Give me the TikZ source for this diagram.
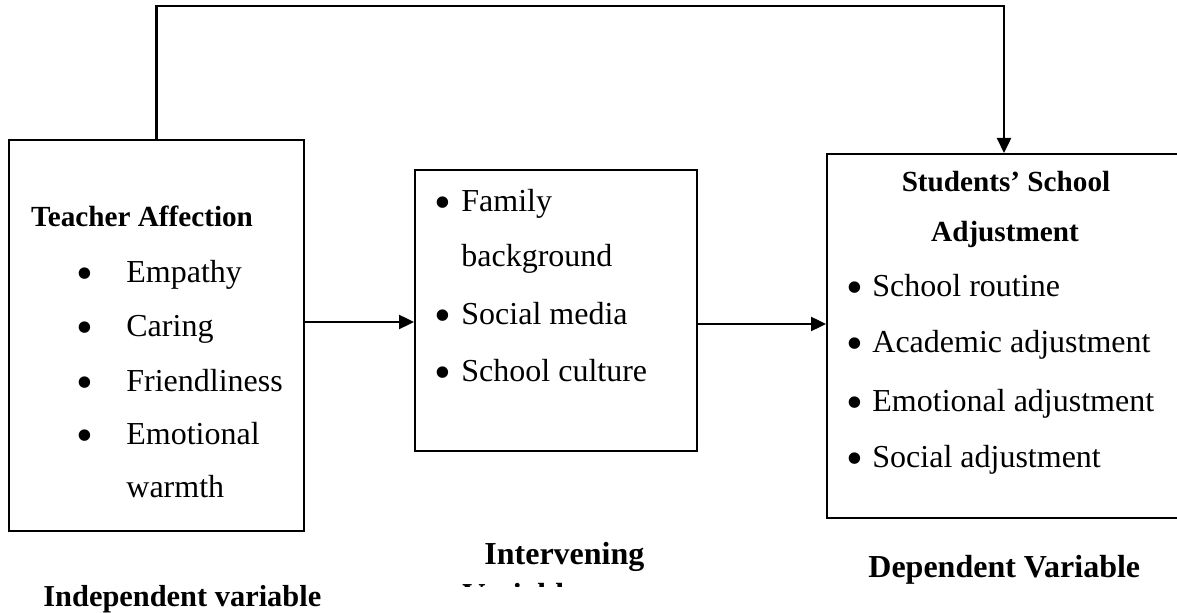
\documentclass[tikz,border=0pt]{standalone}
\usepackage{fontspec}
\setmainfont{Liberation Serif}
\usetikzlibrary{arrows.meta}
\tikzset{
  box/.style={draw, line width=1pt, inner sep=0pt},
  item/.style={anchor=base west, inner sep=0pt, font=\fontsize{16}{16}\selectfont},
  dot/.style={anchor=base, inner sep=0pt, yshift=-3.5pt, font=\fontsize{24}{24}\selectfont},
  head/.style={anchor=base, inner sep=0pt, font=\fontsize{14.6}{14.6}\selectfont\bfseries},
  label/.style={anchor=base west, inner sep=0pt, font=\fontsize{16}{16}\selectfont\bfseries},
  link/.style={line width=1.2pt, -{Triangle[length=7.5pt,width=7pt]}},
}

\begin{document}
\begin{tikzpicture}[x=0.5pt, y=-0.5pt]
\useasboundingbox (0,0) rectangle (1177,613);
% boxes
\node (indep)[box, minimum width=147.5pt, minimum height=195.5pt] at (156.5,335.5) {};
\node (interv)[box, minimum width=141pt, minimum height=140.5pt] at (556,310.5) {};
\node (dep)[box, minimum width=177pt, minimum height=182pt] at (1004,336) {};
% independent variable
\node (ta)[head] at (142,227) {Teacher Affection};
\node (d1)[dot] at (85,283) {•};
\node (d2)[dot] at (85,337) {•};
\node (d3)[dot] at (85,392) {•};
\node (d4)[dot] at (85,445) {•};
\node (empathy)[item] at (126,283) {Empathy};
\node (caring)[item] at (126,337) {Caring};
\node (friend)[item] at (126,392) {Friendliness};
\node (emo)[item] at (126,445) {Emotional};
\node (warmth)[item] at (126,498) {warmth};
% intervening variable
\node (m1)[dot] at (443,212) {•};
\node (m2)[dot] at (443,325) {•};
\node (m3)[dot] at (443,382) {•};
\node (family)[item] at (461,212) {Family};
\node (backgr)[item] at (461,267) {background};
\node (media)[item] at (461,325) {Social media};
\node (culture)[item] at (461,382) {School culture};
% dependent variable
\node (ss)[head] at (1006,192) {Students’ School};
\node (adj)[head] at (1005,242) {Adjustment};
\node (r1)[dot] at (855,297) {•};
\node (r2)[dot] at (855,353) {•};
\node (r3)[dot] at (855,412) {•};
\node (r4)[dot] at (855,468) {•};
\node (routine)[item] at (872,297) {School routine};
\node (acad)[item] at (872,353) {Academic adjustment};
\node (emoadj)[item] at (872,412) {Emotional adjustment};
\node (social)[item] at (872,468) {Social adjustment};
% captions
\node (lindep)[label, font=\fontsize{15.2}{15.2}\selectfont\bfseries] at (43,607) {Independent variable};
\node (linterv)[label] at (484,565) {Intervening};
\begin{scope}
\clip (440,578) rectangle (700,587);
\node (lvar)[label] at (462,606) {Variable};
\end{scope}
\node (ldep)[label] at (868,578) {Dependent Variable};
% connectors
\draw[link] (indep.east |- 0,322) -- (interv.west |- 0,322);
\draw[link] (interv.east |- 0,324) -- (dep.west |- 0,324);
\draw[link] (indep.north) -- ++(0,-133) -| (dep.north);
\end{tikzpicture}
\end{document}
